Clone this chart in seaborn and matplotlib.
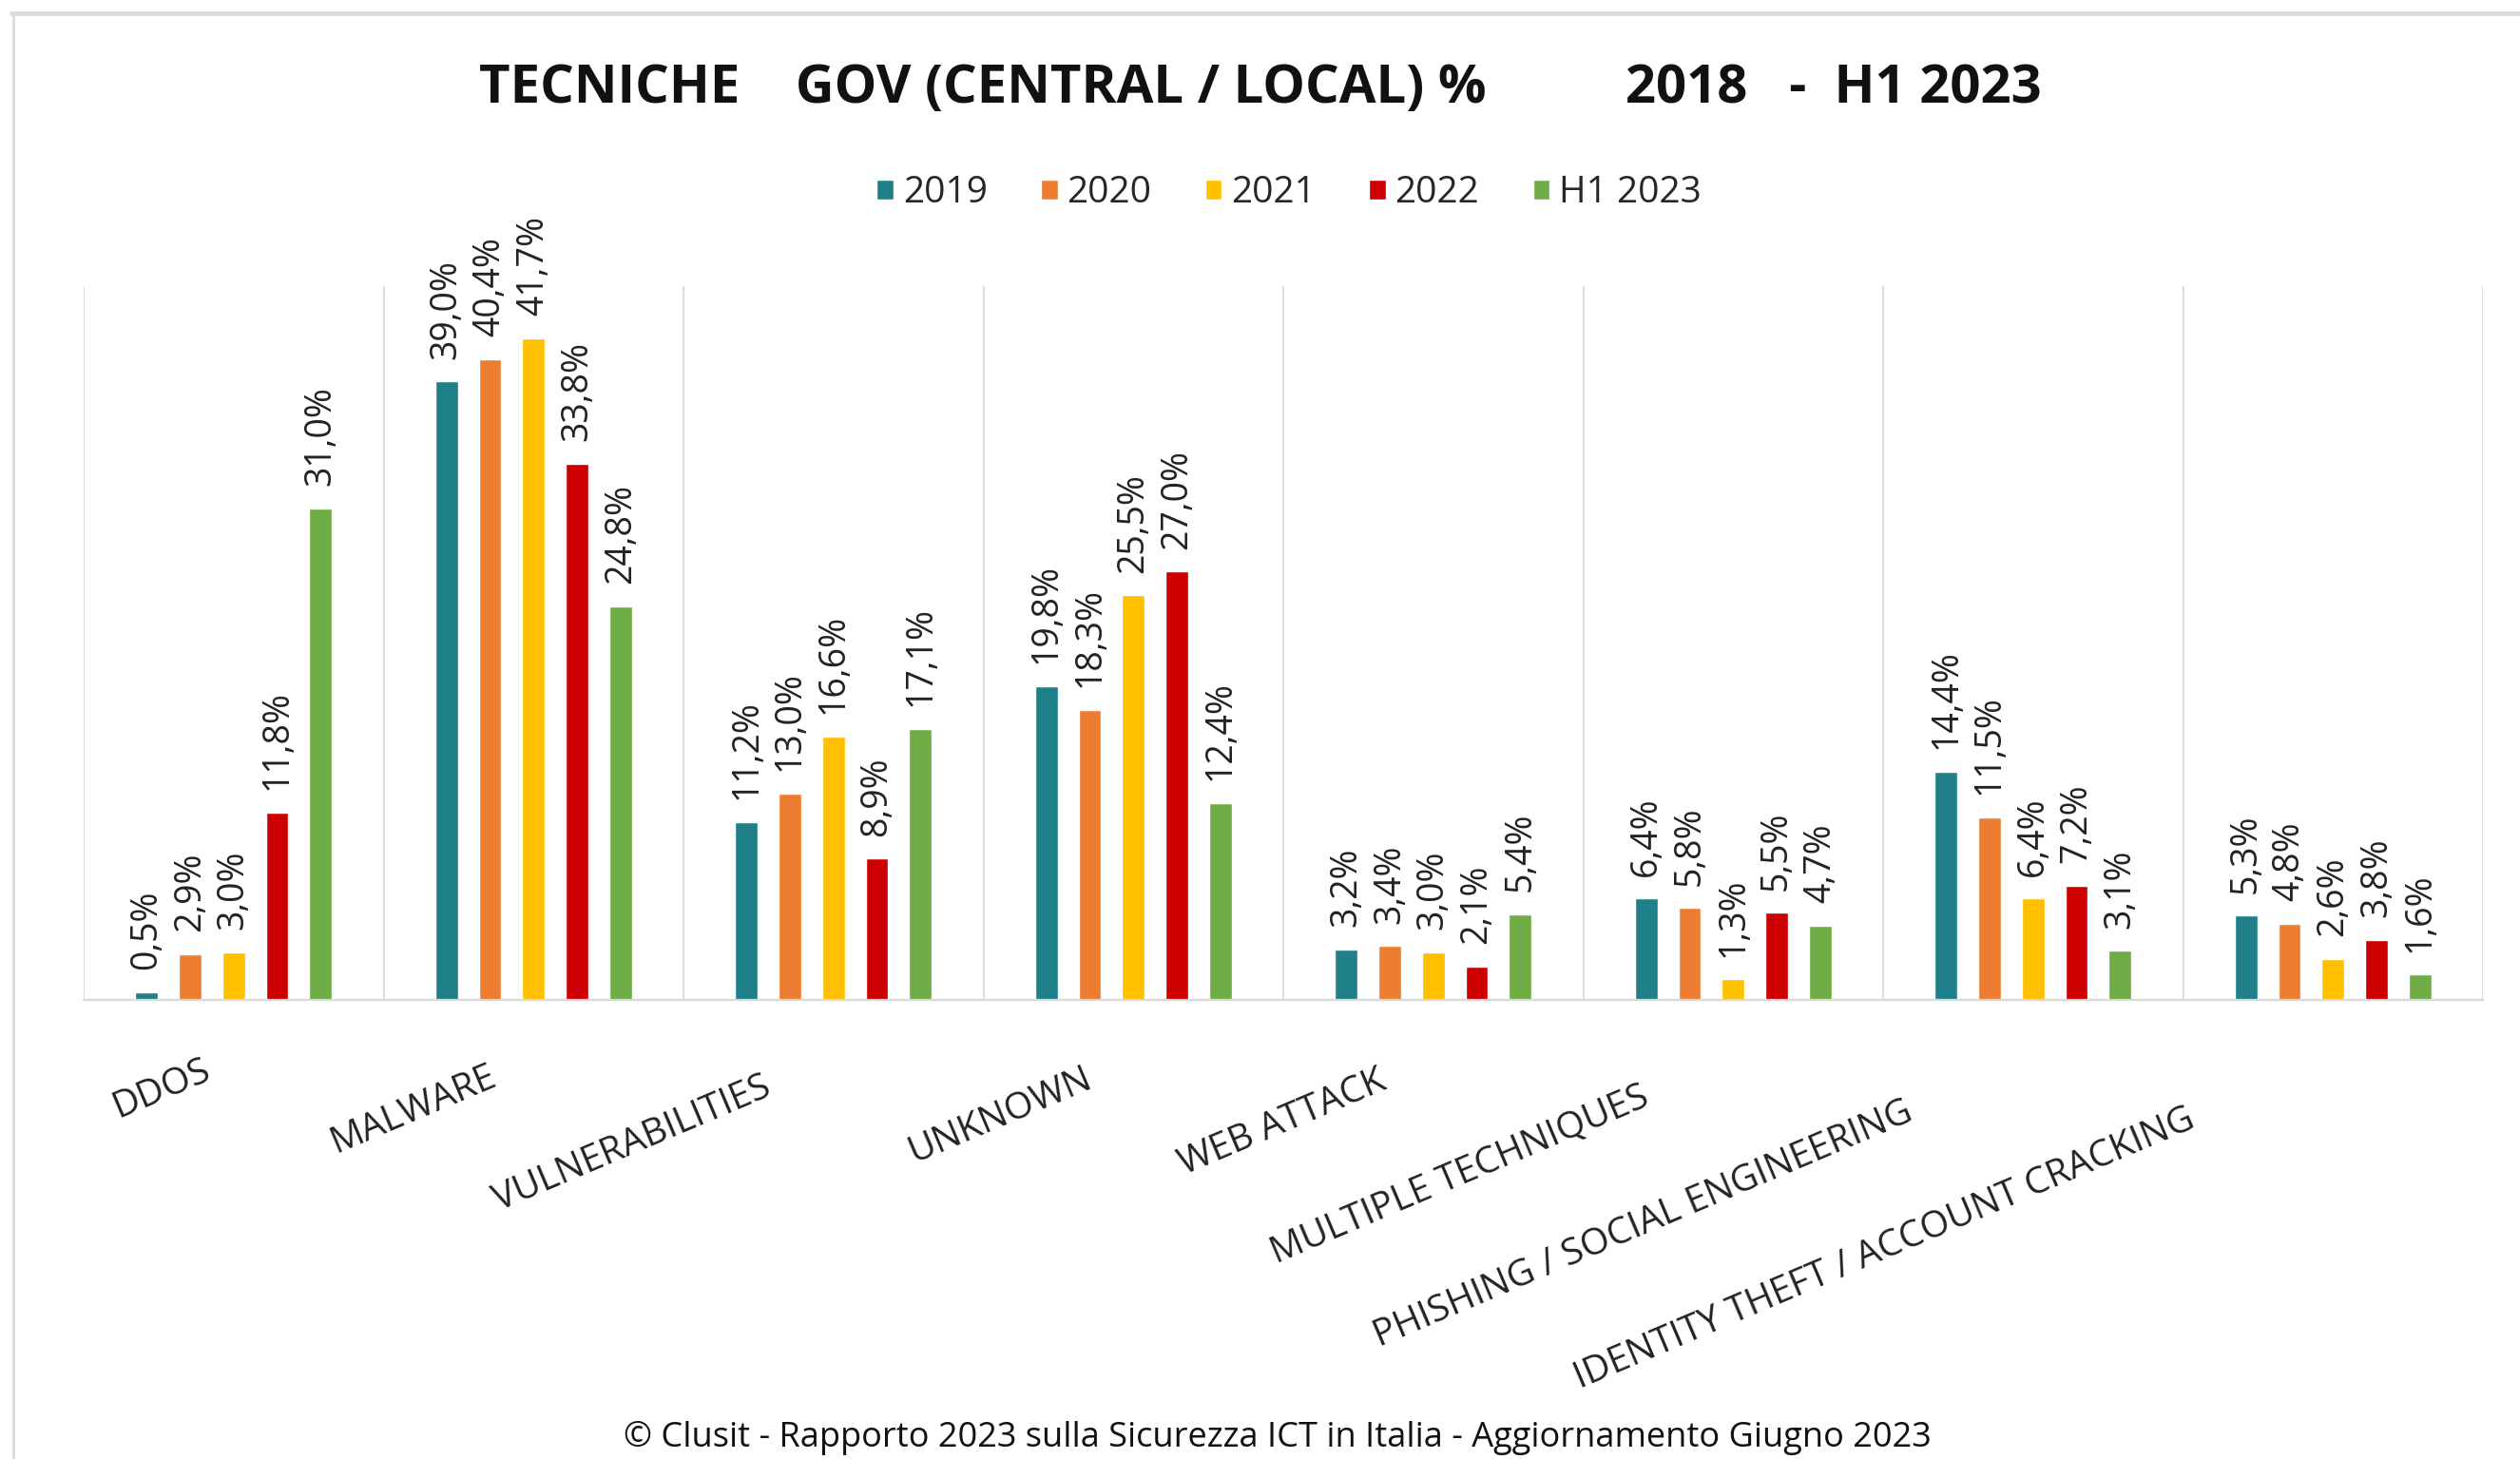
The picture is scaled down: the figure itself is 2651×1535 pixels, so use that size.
import numpy as np
import pandas as pd
import matplotlib
matplotlib.use('Agg')
import matplotlib.pyplot as plt
from matplotlib.lines import Line2D
import seaborn as sns

categories = ['DDOS', 'MALWARE', 'VULNERABILITIES', 'UNKNOWN', 'WEB ATTACK',
              'MULTIPLE TECHNIQUES', 'PHISHING / SOCIAL ENGINEERING',
              'IDENTITY THEFT / ACCOUNT CRACKING']
periods = ['2019', '2020', '2021', '2022', 'H1 2023']
v2019 = [0.5, 39.0, 11.2, 19.8, 3.2, 6.4, 14.4, 5.3]
v2020 = [2.9, 40.4, 13.0, 18.3, 3.4, 5.8, 11.5, 4.8]
v2021 = [3.0, 41.7, 16.6, 25.5, 3.0, 1.3, 6.4, 2.6]
v2022 = [11.8, 33.8, 8.9, 27.0, 2.1, 5.5, 7.2, 3.8]
vh1_2023 = [31.0, 24.8, 17.1, 12.4, 5.4, 4.7, 3.1, 1.6]
colors = ['#1F8089', '#ED7D31', '#FFC000', '#CC0000', '#70AD47']

title = 'TECNICHE    GOV (CENTRAL / LOCAL) %          2018   -  H1 2023'
footer = '\u00a9 Clusit - Rapporto 2023 sulla Sicurezza ICT in Italia - Aggiornamento Giugno 2023'

series = [v2019, v2020, v2021, v2022, vh1_2023]
df = pd.DataFrame([
    {'tecnica': c, 'periodo': p, 'valore': v}
    for p, vals in zip(periods, series)
    for c, v in zip(categories, vals)
])

sns.set_theme(style='white')
plt.rcParams['font.family'] = ['Open Sans', 'DejaVu Sans']

fig = plt.figure(figsize=(26.51, 15.35), dpi=100)
ax = fig.add_axes([0.0332, 0.3147, 0.9521, 0.4892])

sns.barplot(data=df, x='tecnica', y='valore', hue='periodo', order=categories,
            hue_order=periods, palette=dict(zip(periods, colors)),
            width=0.725, gap=0.48, saturation=1, ax=ax)

# etichette dei valori, ruotate
for cont in ax.containers:
    labs = [f'{b.get_height():.1f}%'.replace('.', ',') for b in cont]
    ax.bar_label(cont, labels=labs, rotation=90, padding=17, fontsize=27,
                 color='#222222')

ax.set_xlim(-0.5, len(categories) - 0.5)
ax.set_ylim(0, 45)
ax.set_xlabel('')
ax.set_ylabel('')
ax.set_yticks([])
ax.set_xticks(range(len(categories)))
ax.set_xticklabels([])
ax.set_xticks(np.arange(-0.5, len(categories)), minor=True)
ax.tick_params(axis='x', which='both', length=0)
ax.grid(which='minor', axis='x', color='#D9D9D9', lw=1.3)
ax.grid(which='major', visible=False)
for s in ['top', 'left', 'right']:
    ax.spines[s].set_visible(False)
ax.spines['bottom'].set_color('#D9D9D9')
ax.spines['bottom'].set_linewidth(1.6)

# legenda in alto
handles, labels = ax.get_legend_handles_labels()
if ax.get_legend() is not None:
    ax.get_legend().remove()
fig.legend(handles, labels, loc='center', bbox_to_anchor=(0.5115, 0.8678),
           ncol=5, frameon=False, fontsize=28, handlelength=0.45,
           handleheight=0.45, handletextpad=0.25, columnspacing=1.45)

fig.text(0.5, 0.9394, title, ha='center', va='center', fontsize=40.5,
         weight='bold', color='#111111')
fig.text(0.507, 0.0143, footer, ha='center', va='center', fontsize=26,
         color='#111111')

# etichette categorie inclinate
ROT = 23
ang = np.deg2rad(ROT)
fig.canvas.draw()
renderer = fig.canvas.get_renderer()
for i, cat in enumerate(categories):
    t = ax.annotate(cat, xy=(i, 0), xycoords='data', xytext=(0, 0),
                    textcoords='offset pixels', fontsize=28, color='#222222',
                    ha='right', va='baseline', rotation=0,
                    rotation_mode='anchor', annotation_clip=False)
    L = t.get_window_extent(renderer).width
    t.set_rotation(ROT)
    k = 0.22 * L
    t.xyann = (-k * np.cos(ang), -73 - k * np.sin(ang))

# cornice grigia del riquadro
fig.add_artist(Line2D([0.0045, 1.0], [0.9909, 0.9909], transform=fig.transFigure,
                      color='#DCDCDC', lw=3.5))
fig.add_artist(Line2D([0.0053, 0.0053], [0.0, 0.9909], transform=fig.transFigure,
                      color='#DCDCDC', lw=2))

fig.savefig('out.png', dpi=100, facecolor='white')
